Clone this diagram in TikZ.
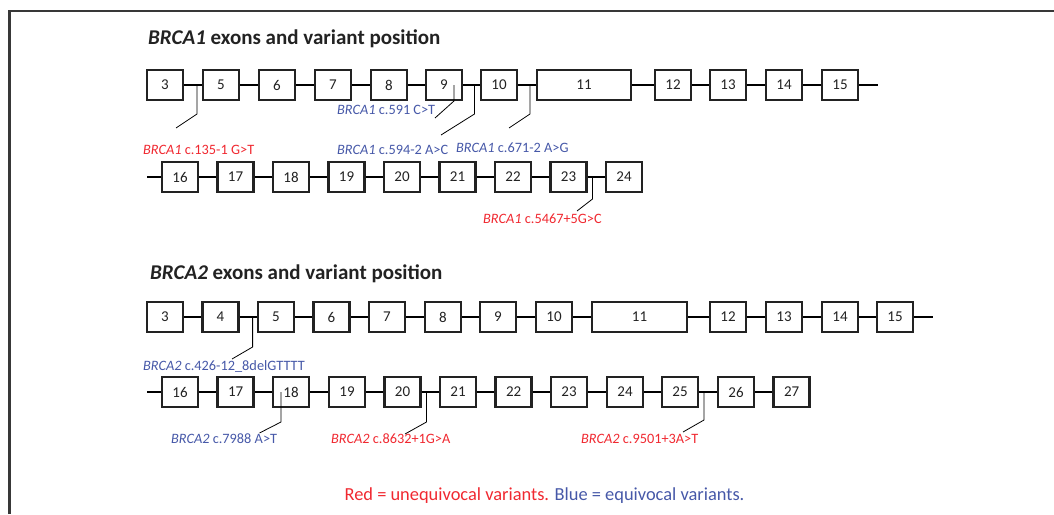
\documentclass[tikz,border=0pt]{standalone}
\usepackage{fontspec}
\setmainfont{Carlito}
\definecolor{varred}{RGB}{240,40,48}
\definecolor{varblue}{RGB}{70,88,168}
\definecolor{ink}{RGB}{34,34,34}
\tikzset{
  frameline/.style={line width=2.4pt, draw=ink!90},
  exon/.style={draw=ink, line width=2.4pt, fill=white, minimum width=36pt,
    minimum height=30pt, inner sep=0pt, text=ink,
    font=\fontsize{15}{15}\selectfont},
  intron/.style={line width=1.2pt, draw=black},
  lead/.style={line width=0.8pt, draw=black},
  varlab/.style={anchor=west, inner sep=0pt, font=\fontsize{14.3}{14.3}\selectfont},
  heading/.style={anchor=west, inner sep=0pt, text=ink,
    font=\fontsize{21}{21}\selectfont\bfseries},
}
\begin{document}
\begin{tikzpicture}[x=1pt,y=-1pt]
\useasboundingbox (0,0) rectangle (1054,514);
% outer frame (open towards right and bottom)
\draw[frameline] (9.5,514) -- (9.5,11) -- (1054,11);

% ---------------- BRCA1 ----------------
\node[heading] (t1) at (148,39) {\textit{BRCA1} exons and variant position};

% row 1: exons 3-15
\foreach \n/\x in {3/165,5/221,6/277,7/333,8/389,9/444,10/499,12/673,13/728,14/784,15/840}
  \node[exon] (a\n) at (\x,85) {\n};
\node[exon, minimum width=94pt] (a11) at (584,85) {11};
\coordinate (aend) at (877.5,85);
\foreach \p/\q in {3/5,5/6,6/7,7/8,8/9,9/10,10/11,11/12,12/13,13/14,14/15,15/end}
  \draw[intron] (a\p) -- (a\q);

% row 2: exons 16-24
\coordinate (bstart) at (147,177);
\foreach \n/\x in {16/180,17/235.5,18/291,19/346.5,20/402,21/457.5,22/513,23/568.5,24/624}
  \node[exon] (b\n) at (\x,177) {\n};
\foreach \p/\q in {start/16,16/17,17/18,18/19,19/20,20/21,21/22,22/23,23/24}
  \draw[intron] (b\p) -- (b\q);

% BRCA1 variants
\coordinate (v1) at (197,85);    \coordinate (v1b) at (197,114);  \coordinate (v1e) at (176,128);
\coordinate (v2) at (454,85);    \coordinate (v2b) at (454,101);  \coordinate (v2e) at (435,118);
\coordinate (v3) at (474.5,85);  \coordinate (v3b) at (474.5,114);\coordinate (v3e) at (441,135);
\coordinate (v4) at (530,85);    \coordinate (v4b) at (530,114);  \coordinate (v4e) at (509,128);
\coordinate (v5) at (592.5,177); \coordinate (v5b) at (592.5,199);\coordinate (v5e) at (577,211);
\foreach \v in {1,...,5}
  \draw[lead] (v\v) -- (v\v b) -- (v\v e);

\node[varlab, text=varblue] (l2) at (337,110) {\textit{BRCA1} c.591 C>T};
\node[varlab, text=varred]  (l1) at (143,150) {\textit{BRCA1} c.135-1 G>T};
\node[varlab, text=varblue] (l3) at (337,150) {\textit{BRCA1} c.594-2 A>C};
\node[varlab, text=varblue] (l4) at (456,148) {\textit{BRCA1} c.671-2 A>G};
\node[varlab, text=varred]  (l5) at (483,219) {\textit{BRCA1} c.5467+5G>C};

% ---------------- BRCA2 ----------------
\node[heading] (t2) at (150,274) {\textit{BRCA2} exons and variant position};

% row 1: exons 3-15
\foreach \n/\x in {3/165,4/220.5,5/276,6/331.5,7/387,8/443,9/498,10/554,12/728,13/784,14/840,15/895}
  \node[exon] (c\n) at (\x,317) {\n};
\node[exon, minimum width=95pt] (c11) at (639.5,317) {11};
\coordinate (cend) at (933,317);
\foreach \p/\q in {3/4,4/5,5/6,6/7,7/8,8/9,9/10,10/11,11/12,12/13,13/14,14/15,15/end}
  \draw[intron] (c\p) -- (c\q);

% row 2: exons 16-27
\coordinate (dstart) at (147,392);
\foreach \n/\x in {16/180,17/235.6,18/291,19/347,20/402.5,21/458,22/513.6,23/569,24/625,25/680,26/736,27/791.6}
  \node[exon] (d\n) at (\x,392) {\n};
\foreach \p/\q in {start/16,16/17,17/18,18/19,19/20,20/21,21/22,22/23,23/24,24/25,25/26,26/27}
  \draw[intron] (d\p) -- (d\q);

% BRCA2 variants
\coordinate (w1) at (252.6,317); \coordinate (w1b) at (252.6,347); \coordinate (w1e) at (232,359);
\coordinate (w2) at (281,392);   \coordinate (w2b) at (281,422);   \coordinate (w2e) at (259.5,433);
\coordinate (w3) at (426.5,392); \coordinate (w3b) at (426.5,422); \coordinate (w3e) at (405,434);
\coordinate (w4) at (704,392);   \coordinate (w4b) at (704,420);   \coordinate (w4e) at (683,432);
\foreach \v in {1,...,4}
  \draw[lead] (w\v) -- (w\v b) -- (w\v e);

\node[varlab, text=varblue] (m1) at (143,366) {\textit{BRCA2} c.426-12\_8delGTTTT};
\node[varlab, text=varblue] (m2) at (171,439) {\textit{BRCA2} c.7988 A>T};
\node[varlab, text=varred]  (m3) at (331,439) {\textit{BRCA2} c.8632+1G>A};
\node[varlab, text=varred]  (m4) at (581,439) {\textit{BRCA2} c.9501+3A>T};

% legend
\node[inner sep=0pt, font=\fontsize{18.4}{18.4}\selectfont] (legend) at (544.5,496)
  {\textcolor{varred}{Red = unequivocal variants.} \textcolor{varblue}{Blue = equivocal variants.}};
\end{tikzpicture}
\end{document}
